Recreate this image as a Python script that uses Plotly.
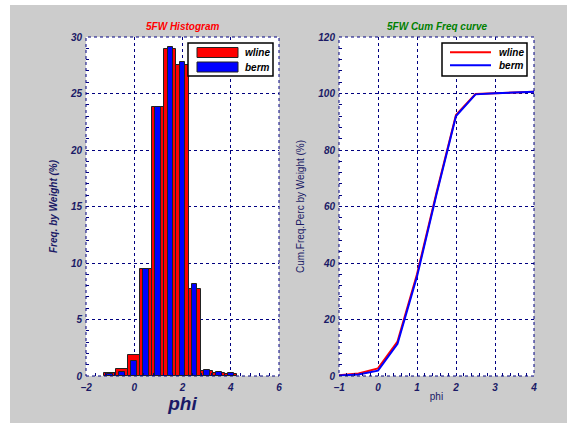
import plotly.graph_objects as go

# Sieve classes (phi) and weight percentages per class
phi = [-1, -0.5, 0, 0.5, 1, 1.5, 2, 2.5, 3, 3.5, 4]
wline_freq = [0.3, 0.6, 1.9, 9.5, 23.8, 28.9, 27.5, 7.7, 0.44, 0.23, 0.15]
berm_freq = [0.2, 0.35, 1.3, 9.5, 23.8, 29.15, 27.75, 8.15, 0.55, 0.35, 0.29]

# Cumulative weight percentages
wline_cum = [0.3, 0.9, 2.7, 12.2, 36.0, 64.9, 92.4, 99.8, 100.1, 100.3, 100.6]
berm_cum = [0.2, 0.5, 1.9, 11.4, 35.2, 64.3, 92.0, 99.7, 100.1, 100.3, 100.6]

series_names = ["wline", "berm"]
series_colors = ["#ff0000", "#0000ff"]

NAVY = "#000080"
LABEL = "#1a1a66"
FONT = "Liberation Sans, Arial, sans-serif"

W, H = 567, 423
ML, MR, MT, MB = 86, 33, 37, 47
PW = W - ML - MR
PH = H - MT - MB


def px_x(px):
    return (px - ML) / PW


def px_y(py):
    return (H - MB - py) / PH


fig = go.Figure()

fig.add_trace(go.Bar(
    x=phi, y=wline_freq, width=0.5, name=series_names[0],
    marker=dict(color=series_colors[0], line=dict(color="#222222", width=1)),
    xaxis="x", yaxis="y", showlegend=False))
fig.add_trace(go.Bar(
    x=phi, y=berm_freq, width=0.24, name=series_names[1],
    marker=dict(color=series_colors[1], line=dict(color="#222222", width=1)),
    xaxis="x", yaxis="y", showlegend=False))

fig.add_trace(go.Scatter(
    x=phi, y=wline_cum, mode="lines", name=series_names[0],
    line=dict(color=series_colors[0], width=2),
    xaxis="x2", yaxis="y2", showlegend=False))
fig.add_trace(go.Scatter(
    x=phi, y=berm_cum, mode="lines", name=series_names[1],
    line=dict(color=series_colors[1], width=2),
    xaxis="x2", yaxis="y2", showlegend=False))

tickfont = dict(family=FONT, size=10, color=LABEL, weight="bold", style="italic")

common = dict(
    showgrid=True, gridcolor=NAVY, griddash="dot", gridwidth=1,
    zeroline=False, showline=False, ticks="", tickfont=tickfont,
)

left_dom = [0, px_x(279)]
right_dom = [px_x(339), 1]

fig.update_layout(
    width=W, height=H,
    margin=dict(l=ML, r=MR, t=MT, b=MB),
    paper_bgcolor="#cccccc", plot_bgcolor="#ffffff",
    barmode="overlay", bargap=0,
    showlegend=False,
    xaxis=dict(domain=left_dom, range=[-2, 6], dtick=2, anchor="y",
               ticklabelstandoff=4,
               title=dict(text="phi", standoff=4,
                          font=dict(family=FONT, size=19, color=LABEL,
                                    weight="bold", style="italic")),
               minor=dict(dtick=0.4, ticks="inside", ticklen=3, tickcolor=NAVY, showgrid=False),
               **common),
    yaxis=dict(domain=[0, 1], range=[0, 30], dtick=5, anchor="x",
               ticklabelstandoff=3,
               title=dict(text="Freq. by Weight (%)", standoff=10,
                          font=dict(family=FONT, size=10, color=LABEL,
                                    weight="bold", style="italic")),
               minor=dict(dtick=1, ticks="inside", ticklen=3, tickcolor=NAVY, showgrid=False),
               **common),
    xaxis2=dict(domain=right_dom, range=[-1, 4], dtick=1, anchor="y2",
                ticklabelstandoff=4,
                title=dict(text="phi", standoff=0,
                           font=dict(family=FONT, size=10, color=LABEL)),
                minor=dict(dtick=0.2, ticks="inside", ticklen=3, tickcolor=NAVY, showgrid=False),
                **common),
    yaxis2=dict(domain=[0, 1], range=[0, 120], dtick=20, anchor="x2",
                ticklabelstandoff=3,
                title=dict(text="Cum.Freq.Perc by Weight (%)", standoff=11,
                           font=dict(family=FONT, size=10, color=LABEL)),
                minor=dict(dtick=4, ticks="inside", ticklen=3, tickcolor=NAVY, showgrid=False),
                **common),
)

# Panel titles
fig.add_annotation(text="5FW Histogram", xref="paper", yref="paper",
                   x=(left_dom[0] + left_dom[1]) / 2, y=px_y(26),
                   showarrow=False, xanchor="center", yanchor="middle",
                   font=dict(family=FONT, size=10, color="#ff0000",
                             weight="bold", style="italic"))
fig.add_annotation(text="5FW Cum Freq curve", xref="paper", yref="paper",
                   x=(right_dom[0] + right_dom[1]) / 2, y=px_y(26),
                   showarrow=False, xanchor="center", yanchor="middle",
                   font=dict(family=FONT, size=10, color="#008000",
                             weight="bold", style="italic"))

# Dotted frames around both axes boxes
for xr, yr in (("x domain", "y domain"), ("x2 domain", "y2 domain")):
    fig.add_shape(type="rect", xref=xr, yref=yr, x0=0, x1=1, y0=0, y1=1,
                  line=dict(color=NAVY, width=1, dash="dot"), layer="above")


def legend_box(x0, swatch_kind):
    """Boxed legend with wide swatches, positioned in pixels."""
    fig.add_shape(type="rect", xref="paper", yref="paper",
                  x0=px_x(x0), x1=px_x(x0 + 85), y0=px_y(76), y1=px_y(43),
                  fillcolor="#ffffff", line=dict(color="#000000", width=1.5),
                  layer="above")
    for i, (name, color) in enumerate(zip(series_names, series_colors)):
        yc = 52.5 + 14.5 * i
        if swatch_kind == "bar":
            fig.add_shape(type="rect", xref="paper", yref="paper",
                          x0=px_x(x0 + 9), x1=px_x(x0 + 50),
                          y0=px_y(yc + 5), y1=px_y(yc - 5),
                          fillcolor=color, line=dict(color="#222222", width=1),
                          layer="above")
        else:
            yc = 52.3 + 13 * i
            fig.add_shape(type="line", xref="paper", yref="paper",
                          x0=px_x(x0 + 8), x1=px_x(x0 + 49),
                          y0=px_y(yc), y1=px_y(yc),
                          line=dict(color=color, width=2), layer="above")
        fig.add_annotation(text=name, xref="paper", yref="paper",
                           x=px_x(x0 + 55), y=px_y(yc), showarrow=False,
                           xanchor="left", yanchor="middle",
                           font=dict(family=FONT, size=10, color="#000000",
                                     weight="bold", style="italic"))


legend_box(188, "bar")
legend_box(442, "line")

# White strips at the window's top and left edges
fig.add_shape(type="rect", xref="paper", yref="paper",
              x0=px_x(-5), x1=px_x(10), y0=px_y(430), y1=px_y(-5),
              fillcolor="#ffffff", line=dict(width=0), layer="above")
fig.add_shape(type="rect", xref="paper", yref="paper",
              x0=px_x(-5), x1=px_x(575), y0=px_y(5), y1=px_y(-5),
              fillcolor="#ffffff", line=dict(width=0), layer="above")

fig.write_html("out.html")
